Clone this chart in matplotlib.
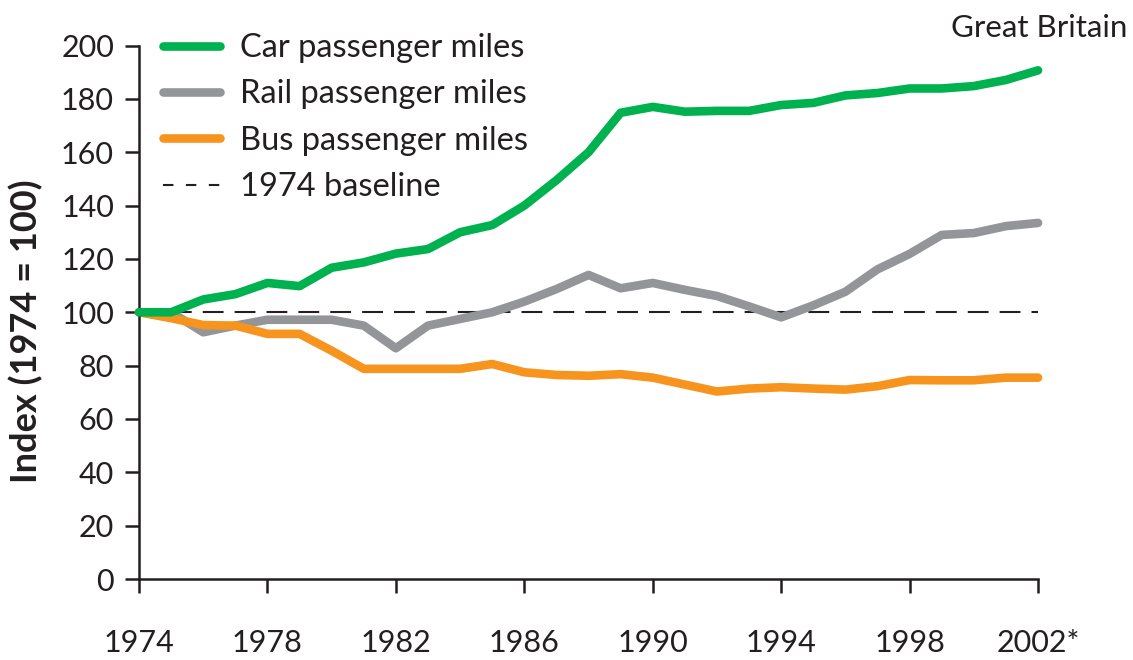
import matplotlib
matplotlib.use("Agg")
import matplotlib.pyplot as plt
from matplotlib.lines import Line2D

plt.rcParams['font.family'] = ['Lato', 'DejaVu Sans']

years = list(range(1974, 2003))
car = [100, 100, 104.8, 106.8, 111, 109.8, 116.7, 118.7, 122, 123.7, 130, 132.7,
       140, 149.5, 160, 174.8, 177, 175.2, 175.5, 175.5, 177.7, 178.5, 181.3,
       182.2, 183.9, 183.9, 184.8, 187.1, 190.7]
rail = [100, 100, 92.5, 95, 97.2, 97.2, 97.2, 95, 86.5, 95, 97.5, 100,
        104, 108.7, 114, 109, 111, 108.4, 106.1, 102.2, 98.1, 102.6, 107.7,
        116.1, 121.9, 129, 129.7, 132.3, 133.5]
bus = [100, 97.8, 95.2, 95, 91.9, 91.9, 85.6, 78.8, 78.8, 78.8, 78.8, 80.6,
       77.5, 76.5, 76.2, 76.8, 75.5, 72.9, 70.3, 71.4, 71.9, 71.4, 71, 72.3,
       74.6, 74.5, 74.5, 75.5, 75.5]
baseline = 100

xticks = [1974, 1978, 1982, 1986, 1990, 1994, 1998, 2002]
xticklabels = ['1974', '1978', '1982', '1986', '1990', '1994', '1998', '2002*']
yticks = list(range(0, 201, 20))

GREEN = '#00b14f'
GREY = '#939598'
ORANGE = '#f7941d'
INK = '#231f20'

fig = plt.figure(figsize=(11.33, 6.6), dpi=100)
ax = fig.add_axes([0.1227, 0.1227, 0.7935, 0.8083])

ax.plot([years[0], years[-1]], [baseline, baseline], color=INK, lw=1.5,
        linestyle=(0, (10, 5.3)), zorder=1)
ax.plot(years, car, color=GREEN, lw=6.2, solid_capstyle='round',
        solid_joinstyle='round', clip_on=False, zorder=3)
ax.plot(years, rail, color=GREY, lw=6.2, solid_capstyle='round',
        solid_joinstyle='round', clip_on=False, zorder=2)
ax.plot(years, bus, color=ORANGE, lw=6.2, solid_capstyle='round',
        solid_joinstyle='round', clip_on=False, zorder=2)

ax.set_xlim(1974, 2002)
ax.set_ylim(0, 200)
ax.set_xticks(xticks)
ax.set_xticklabels(xticklabels)
ax.set_yticks(yticks)

for side in ['top', 'right']:
    ax.spines[side].set_visible(False)
for side in ['left', 'bottom']:
    ax.spines[side].set_linewidth(1.8)
    ax.spines[side].set_color(INK)

ax.tick_params(axis='both', direction='out', length=10, width=1.8,
               color=INK, labelcolor=INK, labelsize=22)
ax.tick_params(axis='x', pad=26)
ax.tick_params(axis='y', pad=8)

ax.set_ylabel('Index (1974 = 100)', fontsize=26, fontweight='bold', color=INK)
ax.yaxis.set_label_coords(-0.107, 0.465)

handles = [
    Line2D([], [], color=GREEN, lw=6.2, solid_capstyle='round'),
    Line2D([], [], color=GREY, lw=6.2, solid_capstyle='round'),
    Line2D([], [], color=ORANGE, lw=6.2, solid_capstyle='round'),
    Line2D([], [], color=INK, lw=1.5, linestyle=(0, (5, 6))),
]
labels = ['Car passenger miles', 'Rail passenger miles',
          'Bus passenger miles', '1974 baseline']
leg = ax.legend(handles, labels, loc='upper left', bbox_to_anchor=(0.012, 1.048),
                frameon=False, fontsize=23.5, handlelength=1.75,
                handletextpad=0.6, labelspacing=0.5, borderaxespad=0.0)
for t in leg.get_texts():
    t.set_color(INK)

fig.text(0.995, 0.957, 'Great Britain', ha='right', va='center',
         fontsize=22.5, color=INK)

fig.savefig('out.png', dpi=100)
